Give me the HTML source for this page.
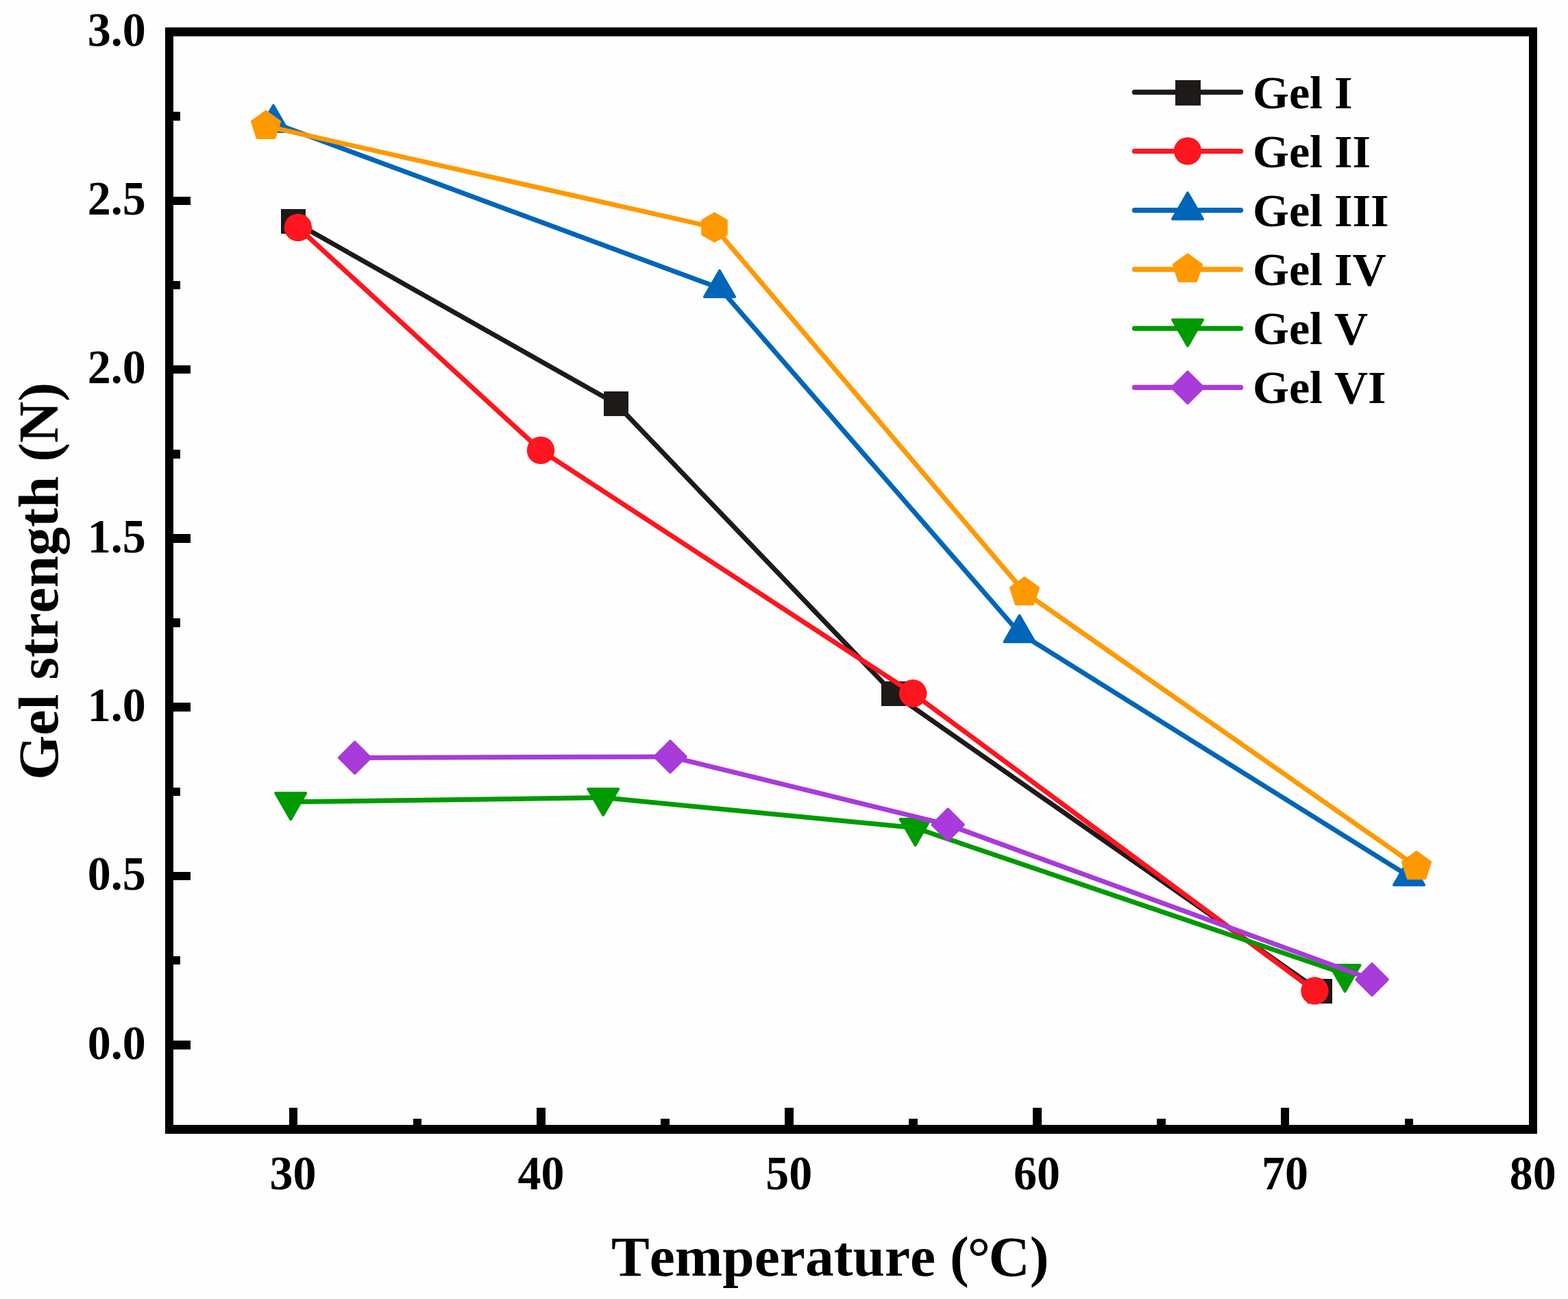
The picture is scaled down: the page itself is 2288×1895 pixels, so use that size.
<!DOCTYPE html>
<html lang="en"><head><meta charset="utf-8">
<title>Gel strength vs temperature</title>
<style>
html,body{margin:0;padding:0;background:#fefefe;}
body{width:2288px;height:1895px;overflow:hidden;}
svg{display:block;}
text{font-family:"Liberation Serif","Times New Roman",Times,serif;font-weight:bold;fill:#000;font-kerning:none;font-variant-ligatures:none;white-space:pre;}
.tk{font-size:68px;}
.lg{font-size:68px;}
.ti{font-size:83.5px;}
</style></head><body>
<svg width="2288" height="1895" viewBox="0 0 2288 1895" role="img" aria-label="Gel strength versus temperature for Gel I to Gel VI">
<rect x="0" y="0" width="2288" height="1895" fill="#fefefe"/>
<g id="series">
<g>
<polyline points="428,323 899,589 1304,1012 1926,1446" fill="none" stroke="#1f1a1a" stroke-width="7" stroke-linejoin="round" stroke-linecap="butt"/>
<rect x="410" y="305" width="36" height="36" fill="#1f1a1a"/>
<rect x="881" y="571" width="36" height="36" fill="#1f1a1a"/>
<rect x="1286" y="994" width="36" height="36" fill="#1f1a1a"/>
<rect x="1908" y="1428" width="36" height="36" fill="#1f1a1a"/>
</g>
<g>
<polyline points="434.9,331.9 789,656.9 1332.2,1011.5 1918.5,1445.4" fill="none" stroke="#ff151f" stroke-width="7" stroke-linejoin="round" stroke-linecap="butt"/>
<circle cx="434.9" cy="331.9" r="20.2" fill="#ff151f"/>
<circle cx="789" cy="656.9" r="20.2" fill="#ff151f"/>
<circle cx="1332.2" cy="1011.5" r="20.2" fill="#ff151f"/>
<circle cx="1918.5" cy="1445.4" r="20.2" fill="#ff151f"/>
</g>
<g>
<polyline points="398.9,179.3 1050,420.3 1487.6,923.5 2056,1278.3" fill="none" stroke="#0066b9" stroke-width="7" stroke-linejoin="round" stroke-linecap="butt"/>
<polygon points="398.9,153.9 420.9,192 376.9,192" fill="#0066b9" stroke="#0066b9" stroke-width="4" stroke-linejoin="round"/>
<polygon points="1050,394.9 1072,433 1028,433" fill="#0066b9" stroke="#0066b9" stroke-width="4" stroke-linejoin="round"/>
<polygon points="1487.6,898.1 1509.6,936.2 1465.6,936.2" fill="#0066b9" stroke="#0066b9" stroke-width="4" stroke-linejoin="round"/>
<polygon points="2056,1252.9 2078,1291 2034,1291" fill="#0066b9" stroke="#0066b9" stroke-width="4" stroke-linejoin="round"/>
</g>
<g>
<polyline points="388,183.9 1042.5,331.8 1495,864.1 2067,1264.1" fill="none" stroke="#ff9900" stroke-width="7" stroke-linejoin="round" stroke-linecap="butt"/>
<polygon points="388,162.8 408.07,177.38 400.4,200.97 375.6,200.97 367.93,177.38" fill="#ff9900" stroke="#ff9900" stroke-width="4" stroke-linejoin="round"/>
<polygon points="1042.5,311.8 1059.82,321.8 1059.82,341.8 1042.5,351.8 1025.18,341.8 1025.18,321.8" fill="#ff9900" stroke="#ff9900" stroke-width="4" stroke-linejoin="round"/>
<polygon points="1495,843 1515.07,857.58 1507.4,881.17 1482.6,881.17 1474.93,857.58" fill="#ff9900" stroke="#ff9900" stroke-width="4" stroke-linejoin="round"/>
<polygon points="2067,1243 2087.07,1257.58 2079.4,1281.17 2054.6,1281.17 2046.93,1257.58" fill="#ff9900" stroke="#ff9900" stroke-width="4" stroke-linejoin="round"/>
</g>
<g>
<polyline points="424.2,1169.8 880.2,1163.6 1335.6,1207.7 1962.5,1420.8" fill="none" stroke="#009a00" stroke-width="7" stroke-linejoin="round" stroke-linecap="butt"/>
<polygon points="424.2,1195.2 446.2,1157.1 402.2,1157.1" fill="#009a00" stroke="#009a00" stroke-width="4" stroke-linejoin="round"/>
<polygon points="880.2,1189 902.2,1150.9 858.2,1150.9" fill="#009a00" stroke="#009a00" stroke-width="4" stroke-linejoin="round"/>
<polygon points="1335.6,1233.1 1357.6,1195 1313.6,1195" fill="#009a00" stroke="#009a00" stroke-width="4" stroke-linejoin="round"/>
<polygon points="1962.5,1446.2 1984.5,1408.1 1940.5,1408.1" fill="#009a00" stroke="#009a00" stroke-width="4" stroke-linejoin="round"/>
</g>
<g>
<polyline points="517.7,1105.4 978,1103.9 1383.2,1203.1 2002,1429" fill="none" stroke="#a83bd9" stroke-width="7" stroke-linejoin="round" stroke-linecap="butt"/>
<polygon points="517.7,1082.6 540.5,1105.4 517.7,1128.2 494.9,1105.4" fill="#a83bd9" stroke="#a83bd9" stroke-width="4" stroke-linejoin="round"/>
<polygon points="978,1081.1 1000.8,1103.9 978,1126.7 955.2,1103.9" fill="#a83bd9" stroke="#a83bd9" stroke-width="4" stroke-linejoin="round"/>
<polygon points="1383.2,1180.3 1406,1203.1 1383.2,1225.9 1360.4,1203.1" fill="#a83bd9" stroke="#a83bd9" stroke-width="4" stroke-linejoin="round"/>
<polygon points="2002,1406.2 2024.8,1429 2002,1451.8 1979.2,1429" fill="#a83bd9" stroke="#a83bd9" stroke-width="4" stroke-linejoin="round"/>
</g>
</g>
<g id="axes" fill="#000" shape-rendering="crispEdges">
<path fill-rule="evenodd" d="M241 40H2243V1654H241Z M253 53H2231V1641H253Z"/>
<rect x="253" y="1518" width="25" height="13"/>
<rect x="253" y="1395" width="10" height="12"/>
<rect x="253" y="1272" width="25" height="12"/>
<rect x="253" y="1149" width="10" height="12"/>
<rect x="253" y="1025" width="25" height="13"/>
<rect x="253" y="902" width="10" height="13"/>
<rect x="253" y="779" width="25" height="13"/>
<rect x="253" y="656" width="10" height="13"/>
<rect x="253" y="533" width="25" height="12"/>
<rect x="253" y="410" width="10" height="12"/>
<rect x="253" y="287" width="25" height="12"/>
<rect x="253" y="163" width="10" height="13"/>
<rect x="422" y="1616" width="12" height="25"/>
<rect x="603" y="1632" width="12" height="9"/>
<rect x="783" y="1616" width="13" height="25"/>
<rect x="964" y="1632" width="13" height="9"/>
<rect x="1145" y="1616" width="13" height="25"/>
<rect x="1326" y="1632" width="13" height="9"/>
<rect x="1507" y="1616" width="13" height="25"/>
<rect x="1688" y="1632" width="13" height="9"/>
<rect x="1869" y="1616" width="12" height="25"/>
<rect x="2050" y="1632" width="12" height="9"/>
</g>
<g id="ticklabels" class="tk">
<text transform="translate(212.7 1544.65) scale(1 1.02)" text-anchor="end">0.0</text>
<text transform="translate(212.7 1298.35) scale(1 1.02)" text-anchor="end">0.5</text>
<text transform="translate(212.7 1052.05) scale(1 1.02)" text-anchor="end">1.0</text>
<text transform="translate(212.7 805.75) scale(1 1.02)" text-anchor="end">1.5</text>
<text transform="translate(212.7 559.45) scale(1 1.02)" text-anchor="end">2.0</text>
<text transform="translate(212.7 313.15) scale(1 1.02)" text-anchor="end">2.5</text>
<text transform="translate(212.7 66.85) scale(1 1.02)" text-anchor="end">3.0</text>
<text transform="translate(427.61 1735.4) scale(1 1.015)" text-anchor="middle">30</text>
<text transform="translate(789.43 1735.4) scale(1 1.015)" text-anchor="middle">40</text>
<text transform="translate(1151.25 1735.4) scale(1 1.015)" text-anchor="middle">50</text>
<text transform="translate(1513.07 1735.4) scale(1 1.015)" text-anchor="middle">60</text>
<text transform="translate(1874.89 1735.4) scale(1 1.015)" text-anchor="middle">70</text>
<text transform="translate(2236.71 1735.4) scale(1 1.015)" text-anchor="middle">80</text>
</g>
<text class="ti" x="892" y="1861" dx="0 0 0 0 0 0 0 0 0 0 0 0 0 -1.9 -2.8 0" dy="0 0 0 0 0 0 0 0 0 0 0 0 0 1.1 -1.1 0">Temperature (°C)</text>
<text class="ti" transform="translate(83.7 847.8) rotate(-90)" text-anchor="middle">Gel strength (N)</text>
<g id="legend">
<line x1="1655.5" y1="134.5" x2="1810.5" y2="134.5" stroke="#1f1a1a" stroke-width="7.4" stroke-linecap="round"/>
<rect x="1715" y="116.9" width="37" height="37" fill="#1f1a1a"/>
<text class="lg" x="1828" y="157.7">Gel I</text>
<line x1="1655.5" y1="220.65" x2="1810.5" y2="220.65" stroke="#ff151f" stroke-width="7.4" stroke-linecap="round"/>
<circle cx="1733" cy="220.35" r="20.2" fill="#ff151f"/>
<text class="lg" x="1828" y="243.85">Gel II</text>
<line x1="1655.5" y1="306.8" x2="1810.5" y2="306.8" stroke="#0066b9" stroke-width="7.4" stroke-linecap="round"/>
<polygon points="1733,281.4 1755,319.5 1711,319.5" fill="#0066b9" stroke="#0066b9" stroke-width="4" stroke-linejoin="round"/>
<text class="lg" x="1828" y="330">Gel III</text>
<line x1="1655.5" y1="392.95" x2="1810.5" y2="392.95" stroke="#ff9900" stroke-width="7.4" stroke-linecap="round"/>
<polygon points="1733,371.65 1753.07,386.23 1745.4,409.82 1720.6,409.82 1712.93,386.23" fill="#ff9900" stroke="#ff9900" stroke-width="4" stroke-linejoin="round"/>
<text class="lg" x="1828" y="416.15">Gel IV</text>
<line x1="1655.5" y1="479.1" x2="1810.5" y2="479.1" stroke="#009a00" stroke-width="7.4" stroke-linecap="round"/>
<polygon points="1733,504.5 1755,466.4 1711,466.4" fill="#009a00" stroke="#009a00" stroke-width="4" stroke-linejoin="round"/>
<text class="lg" x="1828" y="502.3">Gel V</text>
<line x1="1655.5" y1="565.25" x2="1810.5" y2="565.25" stroke="#a83bd9" stroke-width="7.4" stroke-linecap="round"/>
<polygon points="1733,542.55 1755.8,565.35 1733,588.15 1710.2,565.35" fill="#a83bd9" stroke="#a83bd9" stroke-width="4" stroke-linejoin="round"/>
<text class="lg" x="1828" y="588.45">Gel VI</text>
</g>
</svg>
</body></html>
